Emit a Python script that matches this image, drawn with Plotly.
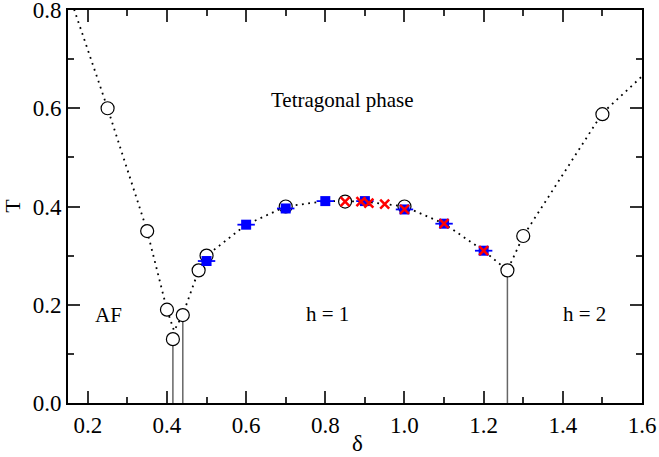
import plotly.graph_objects as go

# open circles (T_c estimates)
circ_x = [0.25, 0.35, 0.40, 0.415, 0.44, 0.48, 0.50, 0.70, 0.85, 1.00, 1.26, 1.30, 1.50]
circ_T = [0.60, 0.35, 0.19, 0.13, 0.179, 0.27, 0.30, 0.40, 0.41, 0.40, 0.27, 0.34, 0.588]

# blue squares
sq_x = [0.50, 0.60, 0.70, 0.80, 0.90, 1.00, 1.10, 1.20]
sq_T = [0.289, 0.363, 0.396, 0.411, 0.411, 0.394, 0.365, 0.31]
sq_err = [0.022] * len(sq_x)

# red crosses
cr_x = [0.85, 0.89, 0.91, 0.95, 1.00, 1.10, 1.20]
cr_T = [0.41, 0.41, 0.407, 0.405, 0.394, 0.365, 0.31]

# dotted guide line
line_x = [0.15, 0.25, 0.35, 0.40, 0.418, 0.44, 0.48, 0.50, 0.60, 0.70, 0.80, 0.85,
          0.90, 1.00, 1.10, 1.20, 1.26, 1.30, 1.50, 1.60]
line_T = [0.838, 0.60, 0.35, 0.19, 0.147, 0.18, 0.27, 0.30, 0.363, 0.40, 0.411, 0.41,
          0.41, 0.40, 0.365, 0.31, 0.27, 0.34, 0.59, 0.665]

# vertical stems (transition points)
stem_x = [0.415, 0.44, 1.26]
stem_T = [0.13, 0.179, 0.27]

# region labels
lab_text = ["Tetragonal phase", "AF", "h = 1", "h = 2"]
lab_x = [0.843, 0.2515, 0.805, 1.455]
lab_T = [0.616, 0.179, 0.182, 0.182]

# tick labels
x_ticks = [0.2, 0.4, 0.6, 0.8, 1.0, 1.2, 1.4, 1.6]
y_ticks = [0.0, 0.2, 0.4, 0.6, 0.8]

FONT = "Liberation Serif"
TICKFONT = dict(family=FONT, size=23, color="black")

fig = go.Figure()

sx, sy = [], []
for x, t in zip(stem_x, stem_T):
    sx += [x, x, None]
    sy += [0, t, None]
fig.add_trace(go.Scatter(x=sx, y=sy, mode="lines",
                         line=dict(color="#666666", width=1.5),
                         hoverinfo="skip", showlegend=False))

fig.add_trace(go.Scatter(x=line_x, y=line_T, mode="lines",
                         line=dict(color="black", width=1.8, dash="1.8px,4.5px"),
                         showlegend=False))

fig.add_trace(go.Scatter(x=circ_x, y=circ_T, mode="markers",
                         marker=dict(symbol="circle", size=13, color="white",
                                     line=dict(color="black", width=1.2)),
                         cliponaxis=False, showlegend=False))

fig.add_trace(go.Scatter(x=sq_x, y=sq_T, mode="markers",
                         marker=dict(symbol="square", size=10, color="#0000ff",
                                     line=dict(width=0)),
                         error_x=dict(type="data", array=sq_err, color="#0000ff",
                                      thickness=1.8, width=0),
                         showlegend=False))

fig.add_trace(go.Scatter(x=cr_x, y=cr_T, mode="markers",
                         marker=dict(symbol="x-thin", size=9, color="red",
                                     line=dict(color="red", width=2.5)),
                         showlegend=False))

for t, x, y in zip(lab_text, lab_x, lab_T):
    fig.add_annotation(x=x, y=y, text=t, showarrow=False,
                       font=dict(family=FONT, size=21, color="black"))

# axis titles
fig.add_annotation(xref="paper", yref="paper", x=0.505, y=-0.102, text="δ",
                   showarrow=False, xanchor="center", yanchor="middle",
                   font=dict(family=FONT, size=23, color="black"))
fig.add_annotation(xref="paper", yref="paper", x=-0.098, y=0.501, text="T",
                   showarrow=False, textangle=-90, xanchor="center", yanchor="middle",
                   font=dict(family=FONT, size=22, color="black"))

axis_common = dict(
    showgrid=False, zeroline=False, showline=True, linecolor="black", linewidth=2,
    mirror="ticks", ticks="inside", ticklen=12, tickwidth=1.5, tickcolor="#333333",
    tickfont=TICKFONT, automargin=False, ticklabeloverflow="allow",
)

fig.update_layout(
    width=659, height=457,
    font=dict(family=FONT, size=23, color="black"),
    margin=dict(l=68, r=17, t=10, b=54, autoexpand=False),
    plot_bgcolor="white", paper_bgcolor="white",
    showlegend=False,
    xaxis=dict(
        range=[0.15, 1.6], tickmode="array", tickvals=x_ticks,
        ticktext=[f"{v:.1f}" for v in x_ticks],
        minor=dict(dtick=0.1, tick0=0.1, ticks="inside", ticklen=6,
                   tickwidth=1.5, tickcolor="#333333"),
        **axis_common,
    ),
    yaxis=dict(
        range=[0, 0.8], tickmode="array", tickvals=y_ticks,
        ticktext=[f"{v:.1f}" for v in y_ticks],
        minor=dict(dtick=0.1, tick0=0, ticks="inside", ticklen=6,
                   tickwidth=1.5, tickcolor="#333333"),
        **axis_common,
    ),
)

fig.write_html("out.html", config={"displayModeBar": False},
               post_script="document.body.style.margin='0';")
